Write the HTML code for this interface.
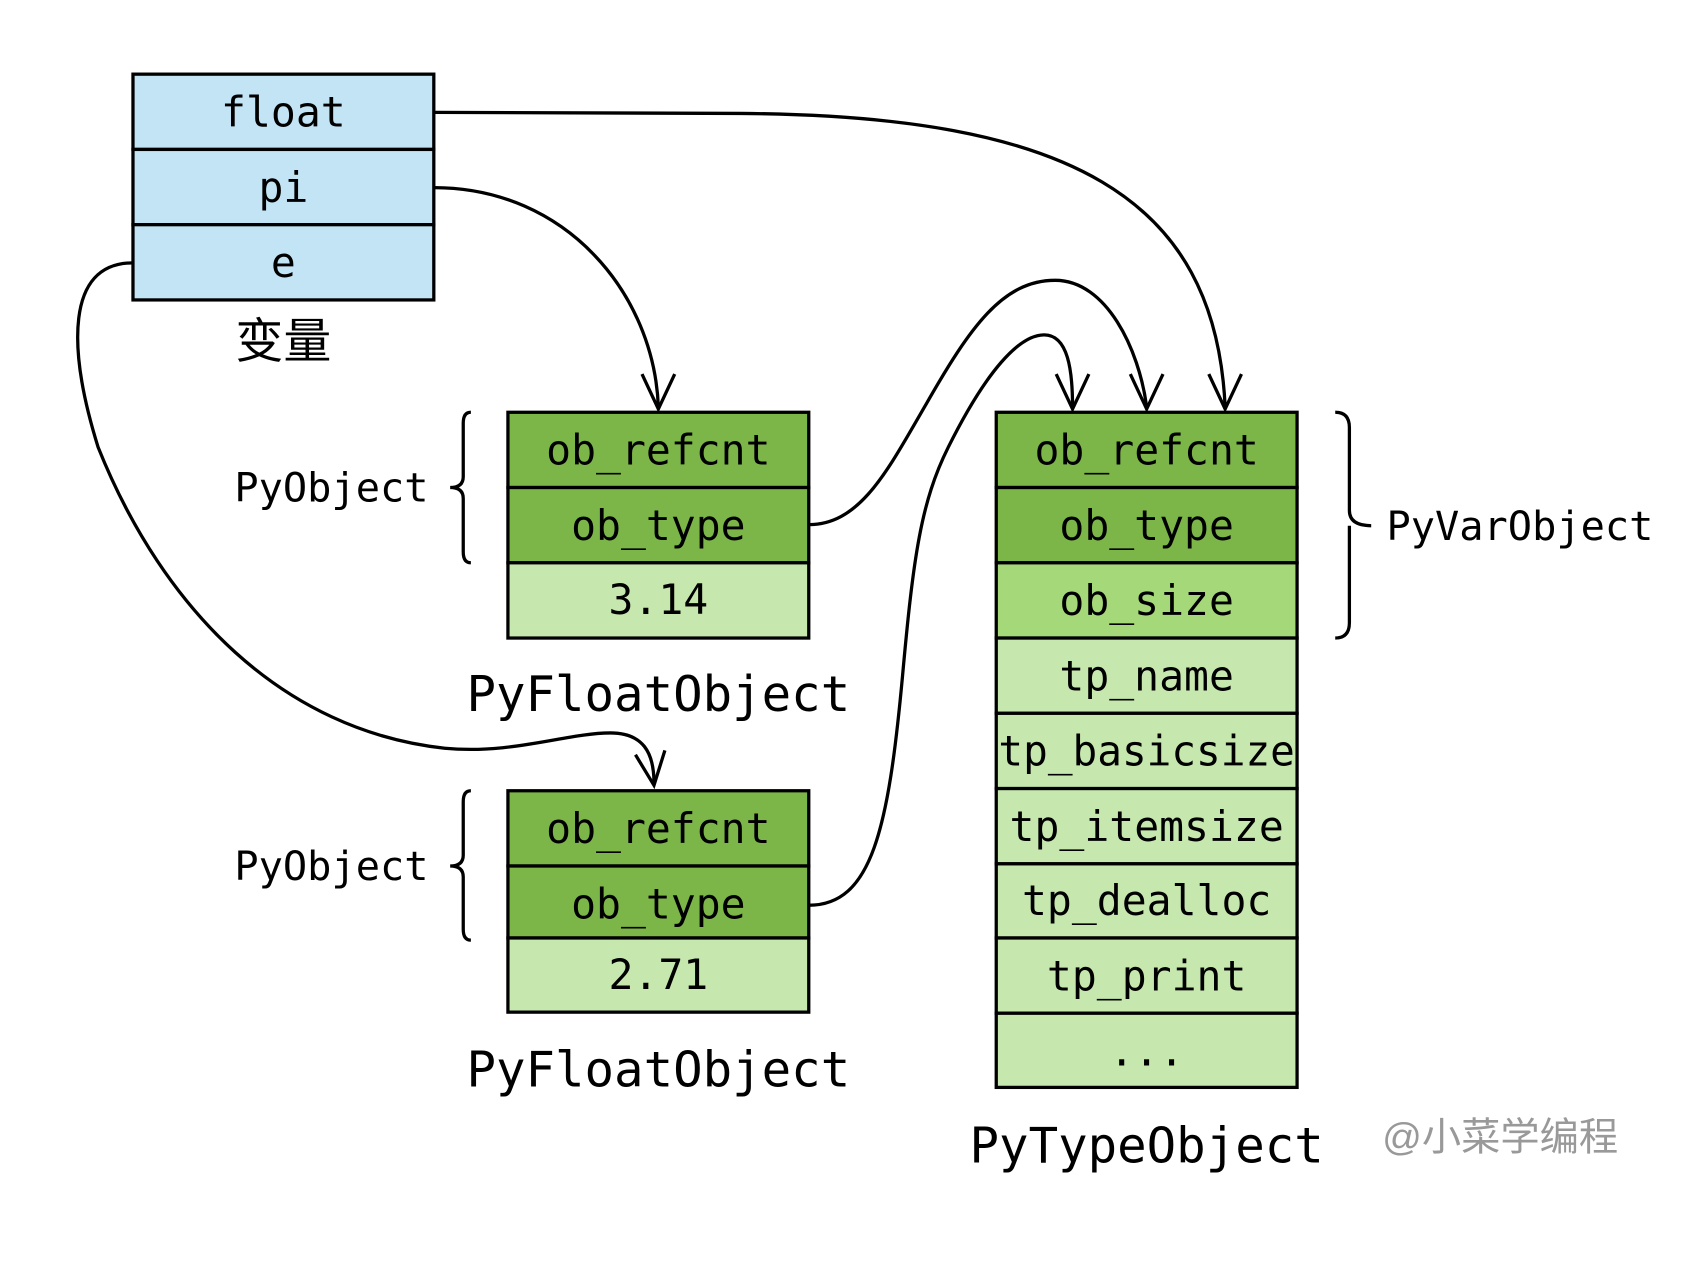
<!DOCTYPE html>
<html><head><meta charset="utf-8"><style>
html,body{margin:0;padding:0;background:#fff;}
svg{display:block;}
text{font-family:"DejaVu Sans Mono","Liberation Mono",monospace;fill:#000;}
</style></head><body>
<svg width="1708" height="1275" viewBox="0 0 1567 1169" preserveAspectRatio="none" xmlns="http://www.w3.org/2000/svg">
<g stroke="#000" stroke-width="3">
<rect x="122" y="68" width="276" height="69" fill="#c2e4f5"/>
<rect x="122" y="137" width="276" height="69" fill="#c2e4f5"/>
<rect x="122" y="206" width="276" height="69" fill="#c2e4f5"/>
<rect x="466" y="378" width="276" height="69" fill="#7cb548"/>
<rect x="466" y="447" width="276" height="69" fill="#7cb548"/>
<rect x="466" y="516" width="276" height="69" fill="#c6e8ae"/>
<rect x="466" y="725" width="276" height="69" fill="#7cb548"/>
<rect x="466" y="794" width="276" height="66" fill="#7cb548"/>
<rect x="466" y="860" width="276" height="68" fill="#c6e8ae"/>
<rect x="914" y="378" width="276" height="69" fill="#7cb548"/>
<rect x="914" y="447" width="276" height="69" fill="#7cb548"/>
<rect x="914" y="516" width="276" height="69" fill="#a5d878"/>
<rect x="914" y="585" width="276" height="69" fill="#c6e8ae"/>
<rect x="914" y="654" width="276" height="69" fill="#c6e8ae"/>
<rect x="914" y="723" width="276" height="69" fill="#c6e8ae"/>
<rect x="914" y="792" width="276" height="68" fill="#c6e8ae"/>
<rect x="914" y="860" width="276" height="69" fill="#c6e8ae"/>
<rect x="914" y="929" width="276" height="68" fill="#c6e8ae"/>
</g>
<g fill="none" stroke="#000" stroke-width="3">
<path d="M432,378 Q425,378 425,388 L425,437 Q425,447 413,447 Q425,447 425,457 L425,506 Q425,516 432,516"/>
<path d="M432,725 Q425,725 425,735 L425,784 Q425,794 413,794 Q425,794 425,804 L425,852 Q425,862 432,862"/>
<path d="M1225,378 Q1238,378 1238,392 L1238,468 Q1238,482 1258,482 M1238,482 Q1238,482 1238,496 L1238,571 Q1238,585 1225,585"/>
<path d="M398,103 L680,104 C980,106 1115,180 1124,373"/>
<path d="M398,172 C520,172 600,270 604,373"/>
<path d="M122,241 C60,241 62,320 90,410 C150,560 260,670 408,686 C470,692 520,672 560,672 C590,672 600,690 600,718"/>
<path d="M742,481 C790,481 815,430 850,370 C890,300 920,257 968,257 C1015,257 1045,320 1052,373"/>
<path d="M742,830 C800,830 815,760 828,620 C838,510 845,460 870,410 C905,340 935,307 958,307 C980,307 984,340 984,373"/>
<path d="M589,343 L604,375 L619,343"/>
<path d="M1109,343 L1124,375 L1139,343"/>
<path d="M1037,343 L1052,375 L1067,343"/>
<path d="M969,343 L984,375 L999,343"/>
<path d="M583,692 L600,720 L610,688"/>
</g>
<g font-size="38" text-anchor="middle">
<text x="260" y="116">float</text>
<text x="260" y="185">pi</text>
<text x="260" y="254">e</text>
<text x="604" y="426">ob_refcnt</text>
<text x="604" y="495">ob_type</text>
<text x="604" y="563">3.14</text>
<text x="604" y="773">ob_refcnt</text>
<text x="604" y="842">ob_type</text>
<text x="604" y="907">2.71</text>
<text x="1052" y="426">ob_refcnt</text>
<text x="1052" y="495">ob_type</text>
<text x="1052" y="564">ob_size</text>
<text x="1052" y="633">tp_name</text>
<text x="1052" y="702" textLength="272" lengthAdjust="spacingAndGlyphs">tp_basicsize</text>
<text x="1052" y="771">tp_itemsize</text>
<text x="1052" y="839">tp_dealloc</text>
<text x="1052" y="908">tp_print</text>
<text x="1052" y="977">...</text>
</g>
<g font-size="37">
<text x="215" y="460">PyObject</text>
<text x="215" y="807">PyObject</text>
<text x="1272" y="495">PyVarObject</text>
</g>
<g font-size="45" text-anchor="middle">
<text x="604" y="652">PyFloatObject</text>
<text x="604" y="996">PyFloatObject</text>
<text x="1052" y="1066">PyTypeObject</text>
</g>
<text x="260" y="328" font-size="44" text-anchor="middle" style='font-family:"Noto Sans CJK SC",sans-serif'>变量</text>
<text x="1268" y="1055" font-size="36" style='font-family:"Liberation Sans","Noto Sans CJK SC",sans-serif;fill:#999'>@小菜学编程</text>
</svg>
</body></html>
